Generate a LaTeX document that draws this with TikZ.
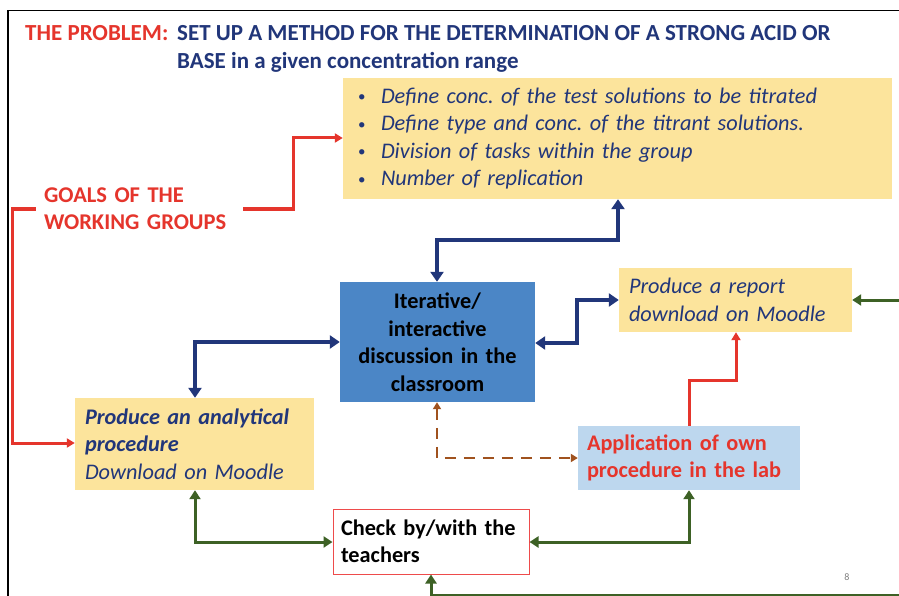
\documentclass[tikz,border=0pt]{standalone}
\usepackage{fontspec}
\setmainfont{Carlito}
\frenchspacing
\usetikzlibrary{arrows.meta,calc}
\definecolor{pred}{HTML}{E5352C}
\definecolor{pnavy}{HTML}{21367A}
\definecolor{pyellow}{HTML}{FCE49C}
\definecolor{pblue}{HTML}{4B86C6}
\definecolor{plight}{HTML}{BDD7EE}
\definecolor{pgreen}{HTML}{3D6125}
\definecolor{pbrown}{HTML}{A0521E}
\definecolor{pbord}{HTML}{EE4B4B}
\newcommand{\mybul}{\makebox[24pt][l]{\hspace{1pt}\raisebox{1.2pt}{\fontsize{15}{15}\selectfont •}}}
\tikzset{
  boxbase/.style={rectangle, inner ysep=0pt, align=left, font=\fontsize{22.3}{27.5}\selectfont},
  yellowbox/.style={boxbase, fill=pyellow, text=pnavy},
  navyline/.style={draw=pnavy, line width=3.6pt, {Triangle[length=10pt,width=13pt]}-{Triangle[length=10pt,width=13pt]}},
  greenline/.style={draw=pgreen, line width=3pt, {Triangle[length=9pt,width=11pt]}-{Triangle[length=9pt,width=11pt]}},
  greenone/.style={draw=pgreen, line width=3pt, -{Triangle[length=9pt,width=11pt]}},
  redline/.style={draw=pred, line width=3pt, -{Triangle[length=8pt,width=9pt]}},
  brownline/.style={draw=pbrown, line width=2.5pt, dash pattern=on 11pt off 8pt, {Triangle[length=7pt,width=8pt]}-{Triangle[length=7pt,width=8pt]}},
  titlefont/.style={inner sep=0pt, font=\fontsize{23}{27}\selectfont\bfseries},
}
\begin{document}
\begin{tikzpicture}[x=1pt,y=-1pt]
\useasboundingbox (0,0) rectangle (899,596);
\fill[white] (0,0) rectangle (899,596);
% frame
\draw[black, line width=1.8pt] (8,596) -- (8,10.5) -- (899,10.5);
% title
\node[titlefont, anchor=base west, text=pred] (tp) at (25,41) {THE PROBLEM:};
\node[titlefont, anchor=base west, text=pnavy] (tt) at (177,41) {SET UP A METHOD FOR THE DETERMINATION OF A STRONG ACID OR};
\node[titlefont, anchor=base west, text=pnavy] (tt2) at (177,68.5) {BASE in a given concentration range};
% boxes
\node[yellowbox, minimum width=549pt, minimum height=121pt, text width=521pt, inner xsep=14pt] (top) at (617.5,138.5)
 {\mybul\textit{Define conc. of the test solutions to be titrated}\\
  \mybul\textit{Define type and conc. of the titrant solutions.}\\
  \mybul\textit{Division of tasks within the group}\\
  \mybul\textit{Number of replication}};
\node[boxbase, text=pred, font=\fontsize{22.5}{27}\selectfont\bfseries, minimum width=207pt, text width=191pt, inner xsep=8pt] (goals) at (139.5,209) {GOALS OF THE\\WORKING GROUPS};
\node[boxbase, fill=pblue, text=black, align=center, font=\fontsize{22.3}{27.5}\selectfont\bfseries, minimum width=195pt, minimum height=120pt, text width=185pt, inner xsep=5pt] (blue) at (437.5,342) {Iterative/\\interactive\\discussion in the\\classroom};
\node[yellowbox, minimum width=233pt, minimum height=64pt, text width=213pt, inner xsep=10pt] (rep) at (735.5,300) {\textit{Produce a report}\\\textit{download on Moodle}};
\node[yellowbox, minimum width=239pt, minimum height=92pt, text width=219pt, inner xsep=10pt] (ana) at (194.5,444) {\textbf{\textit{Produce an analytical}}\\\textbf{\textit{procedure}}\\\textit{Download on Moodle}};
\node[boxbase, fill=plight, text=pred, font=\fontsize{22.3}{27.5}\selectfont\bfseries, minimum width=222pt, minimum height=64pt, text width=204pt, inner xsep=9pt] (app) at (689,458) {Application of own\\procedure in the lab};
\node[boxbase, fill=white, draw=pbord, line width=1pt, text=black, font=\fontsize{22.3}{27.5}\selectfont\bfseries, minimum width=196pt, minimum height=65pt, text width=180pt, inner xsep=8pt] (check) at (431,541.5) {Check by/with the\\teachers};
% page number
\node[text=gray, font=\fontsize{10}{12}\selectfont, inner sep=0pt] (pn) at (847,577) {8};
% coordinates
\coordinate (n1) at (618,240);
\coordinate (n2) at (437,240);
\coordinate (n3) at (195,342);
\coordinate (n4) at (577,343);
\coordinate (n5) at (577,300);
\coordinate (g1) at (195,542);
\coordinate (g2) at (689,542);
\coordinate (g3) at (899,300);
\coordinate (g4) at (899,595);
\coordinate (g5) at (431,595);
\coordinate (r1) at (293,138);
\coordinate (r2) at (12,443);
\coordinate (r3) at (689,380);
\coordinate (r4) at (736,380);
\coordinate (b1) at (437,458);
% connectors
\draw[navyline] (top.south -| n1) -- (n1) -- (n2) -- (blue.north -| n2);
\draw[navyline] (blue.west |- n3) -- (n3) -- (ana.north -| n3);
\draw[navyline] (blue.east |- n4) -- (n4) -- (n5) -- (rep.west |- n5);
\draw[greenline] (ana.south -| g1) -- (g1) -- (check.west |- g1);
\draw[greenline] (check.east |- g2) -- (g2) -- (app.south -| g2);
\draw[greenone] (g3) -- (rep.east |- g3);
\draw[greenone] (g4) -- (g5) -- (check.south -| g5);
\draw[redline] (goals.east) -| (r1) -- (top.west |- r1);
\draw[redline] (goals.west) -| (r2) -- (ana.west |- r2);
\draw[redline] (app.north -| r3) -- (r3) -- (r4) -- (rep.south -| r4);
\draw[brownline] (blue.south -| b1) -- (b1) -- (app.west |- b1);
\end{tikzpicture}
\end{document}
